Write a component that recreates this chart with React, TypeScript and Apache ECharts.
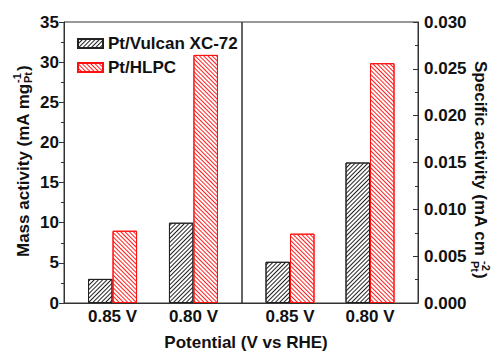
import React, { useEffect, useRef } from "react";
import * as echarts from "echarts";

const categories = ["0.85 V", "0.80 V"];
const catPositions = [0, 1];
const massVulcan = [3.0, 10.0];
const massHLPC = [9.0, 30.9];
const specVulcan = [0.0044, 0.015];
const specHLPC = [0.0074, 0.0256];
const massTicks = { min: 0, max: 35, interval: 5 };
const specTicks = { min: 0, max: 0.03, interval: 0.005 };

const FONT = '"Liberation Sans", Arial, sans-serif';
const AX = "#333";

export default function App() {
  const ref = useRef<HTMLDivElement>(null);
  useEffect(() => {
    const chart = echarts.init(ref.current!, null, { renderer: "svg" });
    const blackStyle = {
      color: "#ffffff",
      borderColor: "#222",
      borderWidth: 1,
      decal: {
        symbol: "rect",
        symbolSize: 1,
        color: "#222",
        dashArrayX: [1, 0],
        dashArrayY: [1, 2],
        rotation: -Math.PI / 4,
      },
    };
    const redStyle = {
      color: "#ffffff",
      borderColor: "#ff1010",
      borderWidth: 1,
      decal: {
        symbol: "rect",
        symbolSize: 1,
        color: "#ff2020",
        dashArrayX: [1, 0],
        dashArrayY: [1, 2],
        rotation: Math.PI / 4,
      },
    };
    const toPairs = (vals: number[]) => vals.map((v, i) => [catPositions[i], v]);
    const xAxisCommon = {
      type: "value",
      min: -0.6,
      max: 1.6,
      axisLine: { show: true, onZero: false, lineStyle: { color: AX, width: 1 } },
      axisTick: { show: false },
      splitLine: { show: false },
      axisLabel: {
        customValues: catPositions,
        formatter: (v: number) => categories[Math.round(v)],
        fontFamily: FONT,
        fontWeight: "bold",
        fontSize: 17,
        color: "#111",
        margin: 5,
      },
    };
    const barCommon = { type: "bar", barWidth: 24.5, barGap: "0%" };
    chart.setOption({
      animation: false,
      backgroundColor: "#ffffff",
      grid: [
        { left: 64, right: 251, top: 22, bottom: 49, show: true, borderColor: AX, borderWidth: 1 },
        { left: 242, right: 75, top: 22, bottom: 49, show: true, borderColor: AX, borderWidth: 1 },
      ],
      legend: {
        orient: "vertical",
        left: 72,
        top: 30,
        icon: "rect",
        itemWidth: 25,
        itemHeight: 9,
        itemGap: 7,
        data: ["Pt/Vulcan XC-72", "Pt/HLPC"],
        textStyle: { fontFamily: FONT, fontWeight: "bold", fontSize: 17, color: "#111", lineHeight: 16 },
      },
      xAxis: [
        { ...xAxisCommon, gridIndex: 0 },
        { ...xAxisCommon, gridIndex: 1 },
      ],
      yAxis: [
        {
          type: "value",
          gridIndex: 0,
          position: "left",
          ...massTicks,
          axisLine: { show: true, onZero: false, lineStyle: { color: AX } },
          axisTick: { show: true, inside: false, length: 5, lineStyle: { color: AX } },
          minorTick: { show: true, splitNumber: 2, length: 3, lineStyle: { color: AX } },
          splitLine: { show: false },
          axisLabel: { fontFamily: FONT, fontWeight: "bold", fontSize: 17, color: "#111", margin: 5 },
        },
        {
          type: "value",
          gridIndex: 1,
          position: "right",
          ...specTicks,
          axisLine: { show: true, onZero: false, lineStyle: { color: AX } },
          axisTick: { show: true, inside: true, length: 5, lineStyle: { color: AX } },
          minorTick: { show: true, splitNumber: 2, length: 3, lineStyle: { color: AX } },
          splitLine: { show: false },
          axisLabel: {
            fontFamily: FONT,
            fontWeight: "bold",
            fontSize: 17,
            color: "#111",
            margin: 6,
            formatter: (v: number) => v.toFixed(3),
          },
        },
      ],
      series: [
        { ...barCommon, name: "Pt/Vulcan XC-72", xAxisIndex: 0, yAxisIndex: 0, data: toPairs(massVulcan), itemStyle: blackStyle },
        { ...barCommon, name: "Pt/HLPC", xAxisIndex: 0, yAxisIndex: 0, data: toPairs(massHLPC), itemStyle: redStyle },
        { ...barCommon, name: "Pt/Vulcan XC-72", xAxisIndex: 1, yAxisIndex: 1, data: toPairs(specVulcan), itemStyle: blackStyle },
        { ...barCommon, name: "Pt/HLPC", xAxisIndex: 1, yAxisIndex: 1, data: toPairs(specHLPC), itemStyle: redStyle },
      ],
      graphic: [
        {
          type: "group",
          x: 23,
          y: 257,
          rotation: Math.PI / 2,
          children: [
            { type: "text", x: 0, y: 0, style: { text: "Mass activity (mA mg", font: `bold 17px ${FONT}`, fill: "#111", textAlign: "left", textVerticalAlign: "middle" } },
            { type: "text", x: 174, y: -6, style: { text: "-1", font: `bold 11px ${FONT}`, fill: "#111", textAlign: "left", textVerticalAlign: "middle" } },
            { type: "text", x: 174, y: 5, style: { text: "Pt", font: `bold 11px ${FONT}`, fill: "#111", textAlign: "left", textVerticalAlign: "middle" } },
            { type: "text", x: 186, y: 0, style: { text: ")", font: `bold 17px ${FONT}`, fill: "#111", textAlign: "left", textVerticalAlign: "middle" } },
          ],
        },
        {
          type: "group",
          x: 480,
          y: 61,
          rotation: -Math.PI / 2,
          children: [
            { type: "text", x: 0, y: 0, style: { text: "Specific activity (mA cm", font: `bold 17px ${FONT}`, fill: "#111", textAlign: "left", textVerticalAlign: "middle" } },
            { type: "text", x: 200, y: -6, style: { text: "-2", font: `bold 11px ${FONT}`, fill: "#111", textAlign: "left", textVerticalAlign: "middle" } },
            { type: "text", x: 200, y: 5, style: { text: "Pt", font: `bold 11px ${FONT}`, fill: "#111", textAlign: "left", textVerticalAlign: "middle" } },
            { type: "text", x: 212, y: 0, style: { text: ")", font: `bold 17px ${FONT}`, fill: "#111", textAlign: "left", textVerticalAlign: "middle" } },
          ],
        },
        {
          type: "text",
          x: 246,
          y: 342,
          style: { text: "Potential (V vs RHE)", font: `bold 17px ${FONT}`, fill: "#111", textAlign: "center", textVerticalAlign: "middle" },
        },
      ],
    });
    return () => chart.dispose();
  }, []);
  return (
    <div
      ref={ref}
      style={{ position: "fixed", left: 0, top: 0, width: 493, height: 352, background: "#fff" }}
    />
  );
}
